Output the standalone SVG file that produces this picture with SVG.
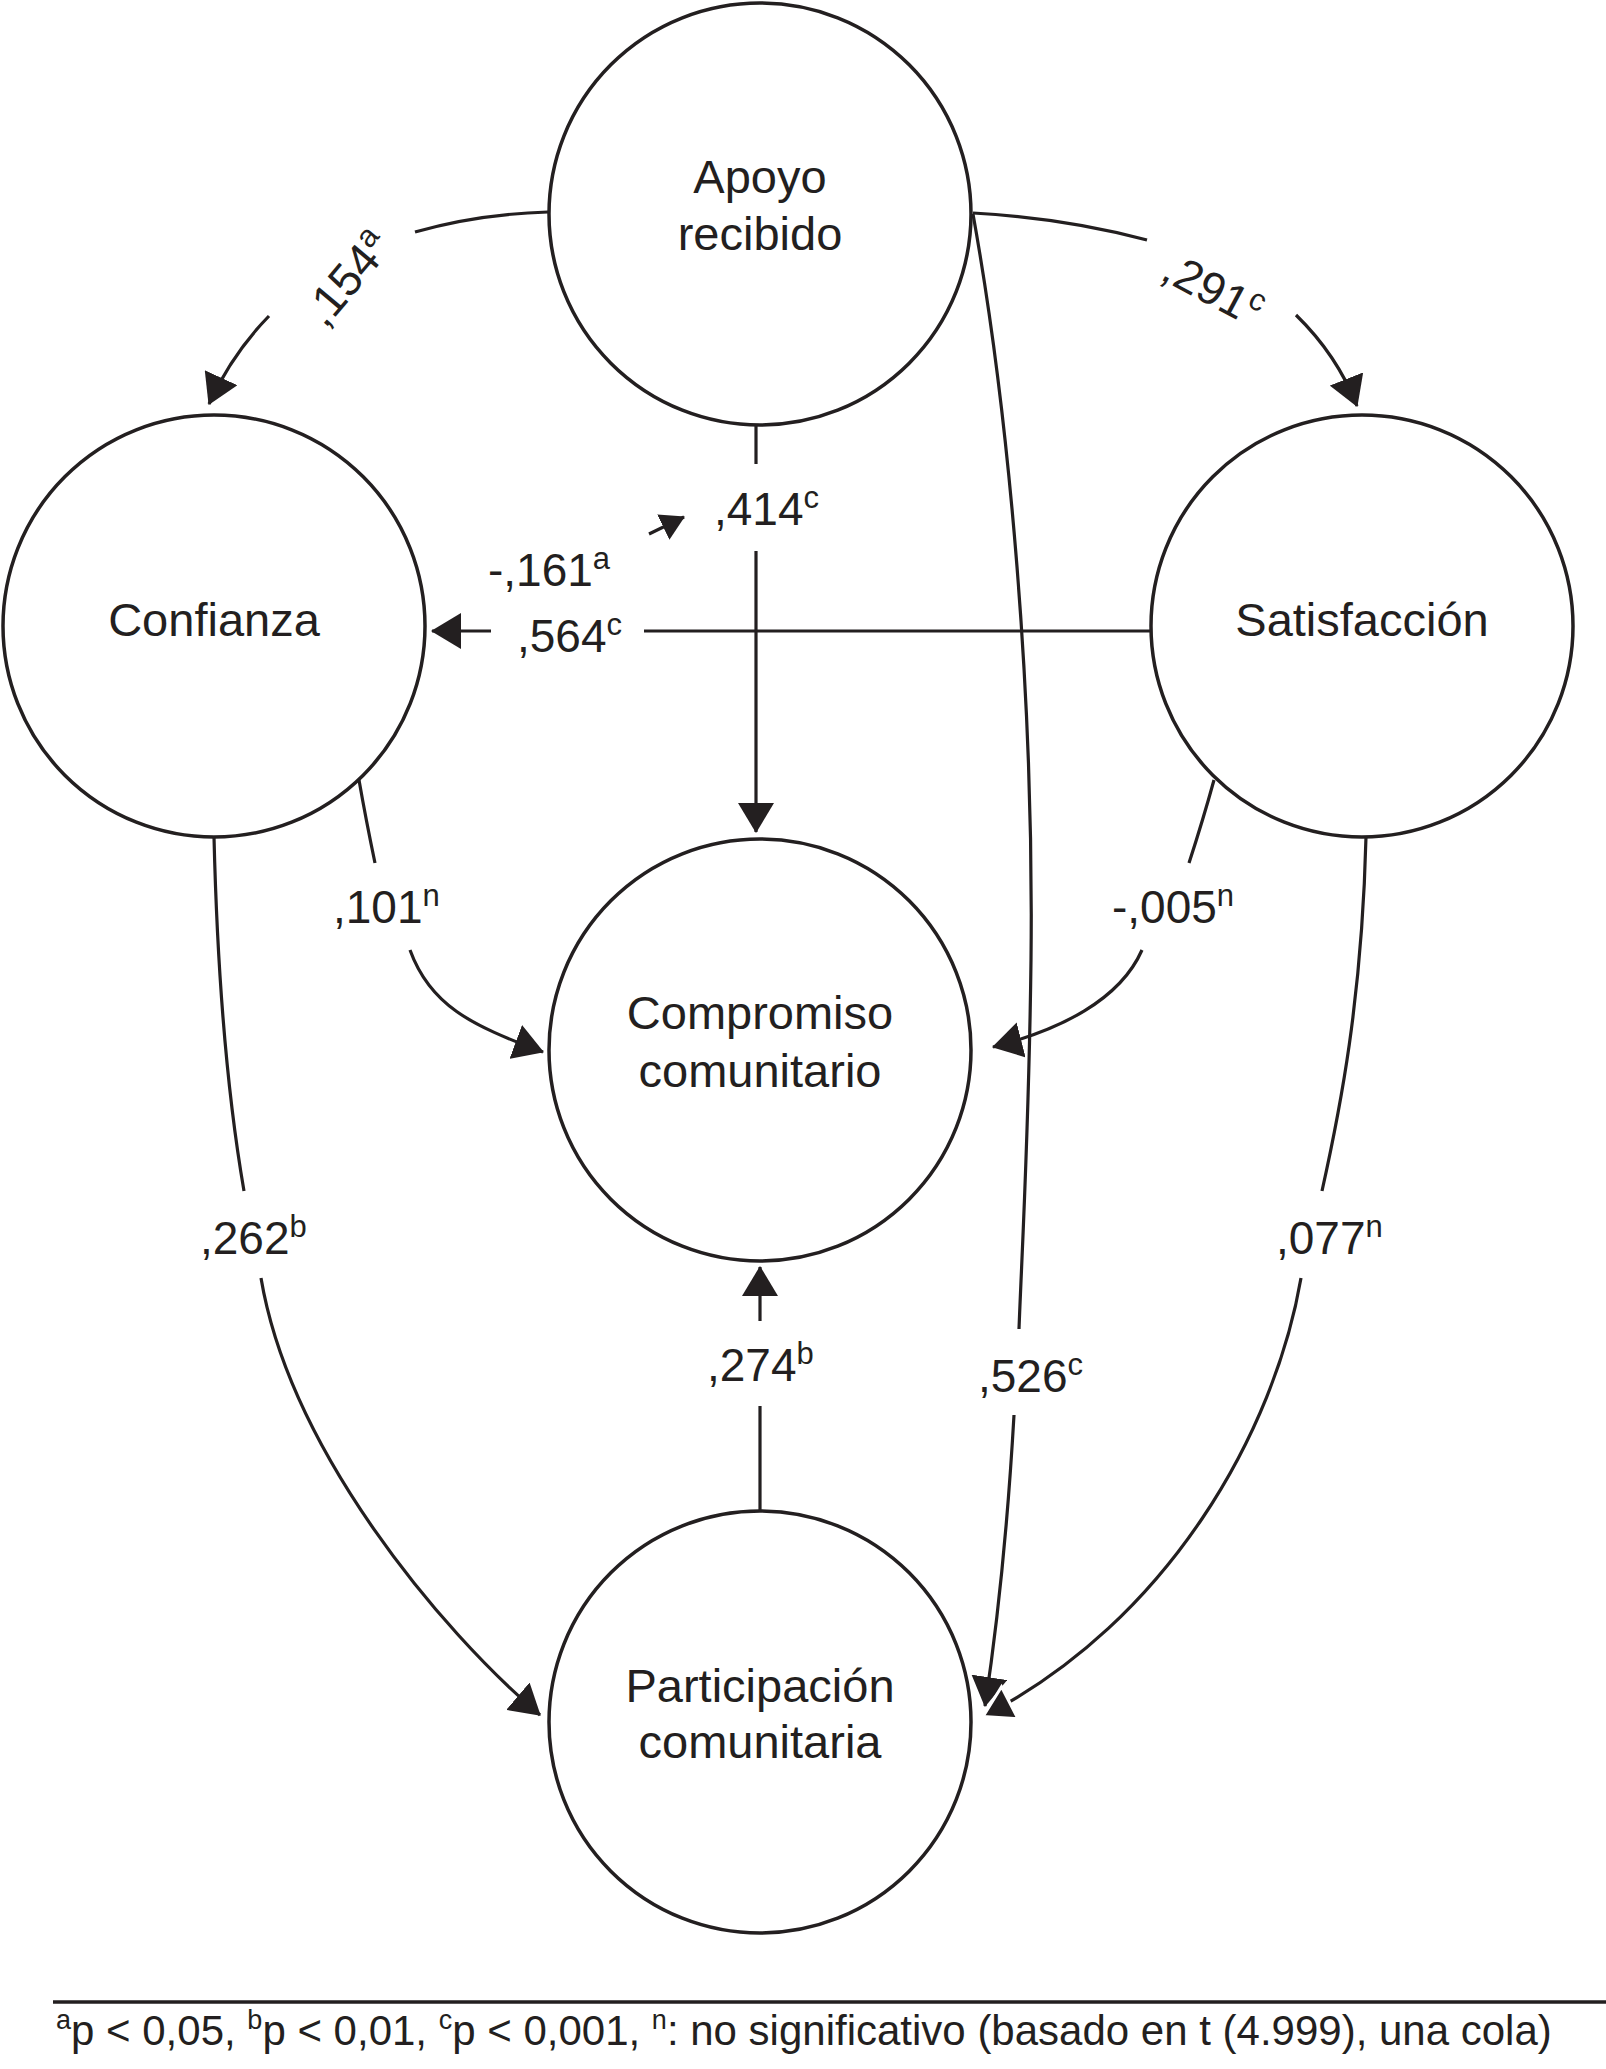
<svg xmlns="http://www.w3.org/2000/svg" width="1606" height="2069" viewBox="0 0 1606 2069">
<style>
  .node circle { fill: #ffffff; stroke: #231f20; stroke-width: 3.5; }
  .node text, .lbl, .foot { font-family: "Liberation Sans", Arial, Helvetica, sans-serif; fill: #231f20; }
  .node text { font-size: 47px; text-anchor: middle; }
  .edge { fill: none; stroke: #231f20; stroke-width: 3.2; }
  .lbl { font-size: 46px; }
  .sup { font-size: 31px; }
  .foot { font-size: 42px; }
  .fsup { font-size: 27px; }
</style>
<defs>
  <marker id="arr" markerUnits="userSpaceOnUse" viewBox="0 0 30 36" markerWidth="30" markerHeight="36" refX="29" refY="18" orient="auto">
    <path d="M0,0 L30,18 L0,36 z" fill="#231f20"/>
  </marker>
  <marker id="arrS" markerUnits="userSpaceOnUse" viewBox="0 0 24 28" markerWidth="24" markerHeight="28" refX="23" refY="14" orient="auto">
    <path d="M0,0 L24,14 L0,28 z" fill="#231f20"/>
  </marker>
  <marker id="arrW" markerUnits="userSpaceOnUse" viewBox="-4 -4 38 44" markerWidth="38" markerHeight="44" refX="29" refY="18" orient="auto">
    <path d="M0,0 L30,18 L0,36 z" fill="#231f20" stroke="#ffffff" stroke-width="3"/>
  </marker>
</defs>
<rect x="0" y="0" width="1606" height="2069" fill="#ffffff"/>

<g id="node-apoyo" class="node">
  <circle cx="760" cy="214" r="211"/>
  <text x="760" y="193">Apoyo</text>
  <text x="760" y="250">recibido</text>
</g>
<g id="node-confianza" class="node">
  <circle cx="214" cy="626" r="211"/>
  <text x="214" y="636">Confianza</text>
</g>
<g id="node-satisfaccion" class="node">
  <circle cx="1362" cy="626" r="211"/>
  <text x="1362" y="636">Satisfacción</text>
</g>
<g id="node-compromiso" class="node">
  <circle cx="760" cy="1050" r="211"/>
  <text x="760" y="1029">Compromiso</text>
  <text x="760" y="1087">comunitario</text>
</g>
<g id="node-participacion" class="node">
  <circle cx="760" cy="1722" r="211"/>
  <text x="760" y="1702">Participación</text>
  <text x="760" y="1758">comunitaria</text>
</g>

<g id="connectors">
  <g id="e-apoyo-confianza">
    <path class="edge" d="M548,212 Q478,214 415,232"/>
    <path class="edge" d="M269,316 Q232,354 209,404" marker-end="url(#arr)"/>
    <text class="lbl" text-anchor="middle" transform="translate(347,278) rotate(-50)" y="16">,154<tspan class="sup" dy="-17">a</tspan></text>
  </g>
  <g id="e-apoyo-satisfaccion">
    <path class="edge" d="M973,213 Q1065,218 1147,240"/>
    <path class="edge" d="M1296,315 Q1337,355 1357,406" marker-end="url(#arr)"/>
    <text class="lbl" text-anchor="middle" transform="translate(1213,289) rotate(28)" y="16">,291<tspan class="sup" dy="-17">c</tspan></text>
  </g>
  <g id="e-apoyo-compromiso">
    <path class="edge" d="M756,425 V464"/>
    <path class="edge" d="M756,551 V832" marker-end="url(#arr)"/>
    <text class="lbl" x="714" y="525">,414<tspan class="sup" dy="-17">c</tspan></text>
  </g>
  <g id="e-confianza-minor">
    <path class="edge" d="M649,534 L684,517" marker-end="url(#arrS)"/>
    <text class="lbl" x="488" y="586">-,161<tspan class="sup" dy="-17">a</tspan></text>
  </g>
  <g id="e-satisfaccion-confianza">
    <path class="edge" d="M1150,631 H644"/>
    <path class="edge" d="M491,631 H432" marker-end="url(#arr)"/>
    <text class="lbl" x="517" y="652">,564<tspan class="sup" dy="-17">c</tspan></text>
  </g>
  <g id="e-confianza-compromiso">
    <path class="edge" d="M359,780 Q366,820 375,863"/>
    <path class="edge" d="M410,950 C430,1005 470,1025 543,1052" marker-end="url(#arr)"/>
    <text class="lbl" x="333" y="923">,101<tspan class="sup" dy="-17">n</tspan></text>
  </g>
  <g id="e-satisfaccion-compromiso">
    <path class="edge" d="M1214,780 Q1203,820 1189,863"/>
    <path class="edge" d="M1142,950 C1120,1000 1060,1030 993,1047" marker-end="url(#arr)"/>
    <text class="lbl" x="1112" y="923">-,005<tspan class="sup" dy="-17">n</tspan></text>
  </g>
  <g id="e-confianza-participacion">
    <path class="edge" d="M214,837 C218,1000 230,1110 244,1191"/>
    <path class="edge" d="M261,1278 C290,1450 440,1630 540,1715" marker-end="url(#arr)"/>
    <text class="lbl" x="200" y="1254">,262<tspan class="sup" dy="-17">b</tspan></text>
  </g>
  <g id="e-apoyo-participacion">
    <path class="edge" d="M973,214 C1010,420 1034,700 1031,960 C1029,1130 1022,1250 1019,1329"/>
    <path class="edge" d="M1014,1415 C1008,1520 998,1620 985,1706" marker-end="url(#arr)"/>
    <text class="lbl" x="978" y="1392">,526<tspan class="sup" dy="-17">c</tspan></text>
  </g>
  <g id="e-satisfaccion-participacion">
    <path class="edge" d="M1366,837 C1362,1000 1340,1110 1322,1191"/>
    <path class="edge" d="M1301,1278 C1275,1430 1170,1620 984,1716" marker-end="url(#arrW)"/>
    <text class="lbl" x="1276" y="1254">,077<tspan class="sup" dy="-17">n</tspan></text>
  </g>
  <g id="e-participacion-compromiso">
    <path class="edge" d="M760,1511 V1406"/>
    <path class="edge" d="M760,1321 V1267" marker-end="url(#arr)"/>
    <text class="lbl" x="707" y="1381">,274<tspan class="sup" dy="-17">b</tspan></text>
  </g>
</g>

<g id="footnote">
  <path d="M53,2002 H1606" stroke="#231f20" stroke-width="3.5" fill="none"/>
  <text class="foot" x="56" y="2045"><tspan class="fsup" dy="-16">a</tspan><tspan dy="16">p &lt; 0,05, </tspan><tspan class="fsup" dy="-16">b</tspan><tspan dy="16">p &lt; 0,01, </tspan><tspan class="fsup" dy="-16">c</tspan><tspan dy="16">p &lt; 0,001, </tspan><tspan class="fsup" dy="-16">n</tspan><tspan dy="16">: no significativo (basado en t (4.999), una cola)</tspan></text>
</g>
</svg>
